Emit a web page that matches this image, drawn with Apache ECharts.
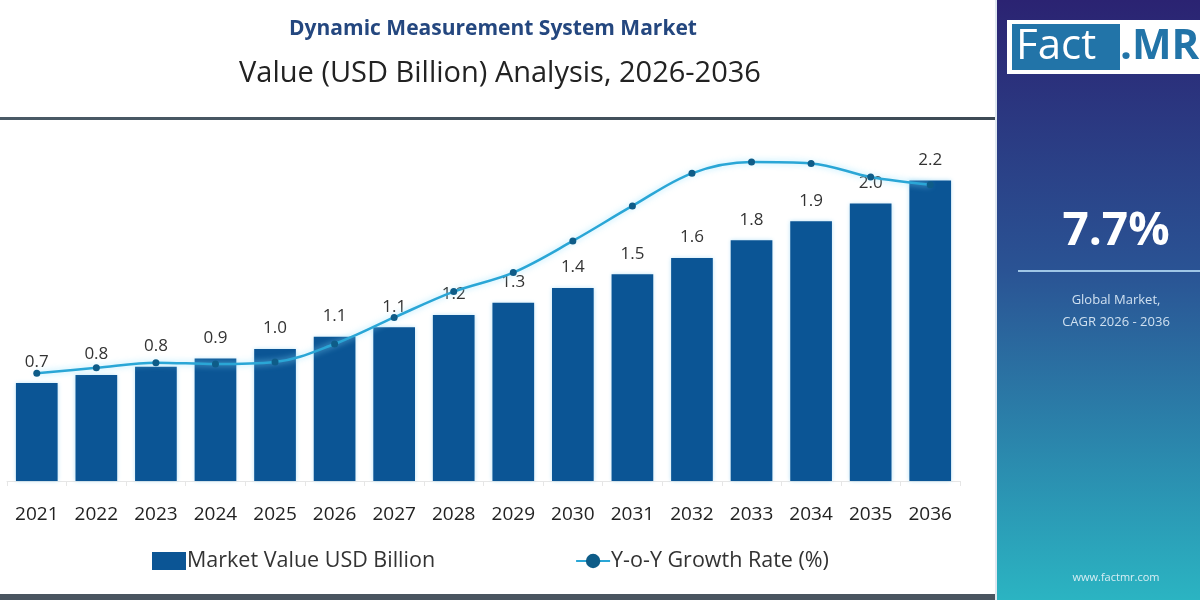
<!DOCTYPE html>
<html>
<head>
<meta charset="utf-8">
<script src="https://cdn.jsdelivr.net/npm/echarts@6/dist/echarts.min.js"></script>
<style>
html,body{margin:0;padding:0;background:#fff;}
#chart{width:1200px;height:600px;}
</style>
</head>
<body>
<div id="chart"></div>
<script>
const years = ['2021','2022','2023','2024','2025','2026','2027','2028','2029','2030','2031','2032','2033','2034','2035','2036'];
const marketValue = [0.72, 0.78, 0.84, 0.90, 0.97, 1.06, 1.13, 1.22, 1.31, 1.42, 1.52, 1.64, 1.77, 1.91, 2.04, 2.21];
const growthRate = [31.7, 33.3, 34.8, 34.4, 35.0, 40.3, 48.1, 55.7, 61.3, 70.6, 80.9, 90.5, 93.8, 93.4, 89.4, 87.1];
const titleText = 'Dynamic Measurement System Market';
const subtitleText = 'Value (USD Billion) Analysis, 2026-2036';
const cagrText = '7.7%';
const cagrLabel = ['Global Market,', 'CAGR 2026 - 2036'];
const siteText = 'www.factmr.com';

const FONT = '"Open Sans", Lato, sans-serif';
const chart = echarts.init(document.getElementById('chart'));
chart.setOption({
  backgroundColor: '#ffffff',
  animation: false,
  title: [
    { text: titleText, left: 488, top: 14, textAlign: 'center',
      textStyle: { fontFamily: FONT, fontSize: 21, fontWeight: 'bold', color: '#24477f' } },
    { text: subtitleText, left: 495, top: 54, textAlign: 'center',
      textStyle: { fontFamily: FONT, fontSize: 29, fontWeight: 'normal', color: '#222' } }
  ],
  legend: {
    left: 147, top: 545, itemGap: 140, itemWidth: 34, itemHeight: 18,
    textStyle: { fontFamily: FONT, fontSize: 21.5, color: '#333', padding: [0,0,0,-4] },
    data: [
      { name: 'Market Value USD Billion', icon: 'rect' },
      { name: 'Y-o-Y Growth Rate (%)' }
    ]
  },
  grid: { left: 7, right: 240, top: 141, bottom: 119, containLabel: false },
  xAxis: {
    type: 'category', data: years,
    axisLine: { show: true, lineStyle: { color: '#e6e6e6' } },
    axisTick: { show: true, lineStyle: { color: '#e6e6e6' } },
    axisLabel: { interval: 0, fontFamily: FONT, fontSize: 19, color: '#222', margin: 24 }
  },
  yAxis: [
    { type: 'value', min: 0, max: 2.5, show: false, splitLine: { show: false } },
    { type: 'value', min: 0, max: 100, show: false, splitLine: { show: false } }
  ],
  series: [
    {
      name: 'Market Value USD Billion', type: 'bar', data: marketValue, barWidth: '70%',
      itemStyle: { color: '#0b5595', shadowColor: 'rgba(120,200,240,0.5)', shadowBlur: 4 },
      label: { show: true, position: 'top', distance: 12, fontFamily: FONT, fontSize: 17, color: '#333',
        formatter: p => p.value.toFixed(1) }
    },
    {
      name: 'Y-o-Y Growth Rate (%)', type: 'line', yAxisIndex: 1, data: growthRate, smooth: 0.35,
      symbol: 'circle', symbolSize: 7, z: 5,
      lineStyle: { color: '#2aa6d6', width: 2.5, shadowColor: 'rgba(140,225,255,0.8)', shadowBlur: 6 },
      itemStyle: { color: '#0e5c88' }
    }
  ],
  graphic: [
    { type: 'rect', shape: { x: 0, y: 117, width: 995, height: 3 },
      style: { fill: new echarts.graphic.LinearGradient(0,0,1,0,[{offset:0,color:'#4a5a66'},{offset:1,color:'#3d4a55'}]) } },
    { type: 'rect', shape: { x: 0, y: 594, width: 1200, height: 6 }, style: { fill: '#4a5560' } },
    { type: 'rect', shape: { x: 995, y: 0, width: 2, height: 600 }, style: { fill: '#dfe8f0' } },
    { type: 'rect', shape: { x: 997, y: 0, width: 203, height: 600 },
      style: { fill: new echarts.graphic.LinearGradient(0,0,0,1,[
        {offset:0,color:'#2b2372'},{offset:0.45,color:'#2a5394'},{offset:1,color:'#2bb4c2'}]) } },
    { type: 'rect', shape: { x: 1007, y: 20, width: 200, height: 54 }, style: { fill: '#ffffff' } },
    { type: 'rect', shape: { x: 1012, y: 24, width: 108, height: 46 }, style: { fill: '#2274a8' } },
    { type: 'text', x: 1016, y: 47, style: { text: 'Fact', fontFamily: FONT, fontSize: 42, fill: '#ffffff', verticalAlign: 'middle' } },
    { type: 'text', x: 1120, y: 47, style: { text: '.MR', fontFamily: FONT, fontSize: 42, fontWeight: 'bold', fill: '#2274a8', verticalAlign: 'middle' } },
    { type: 'text', x: 1116, y: 232, style: { text: cagrText, fontFamily: FONT, fontSize: 46, fontWeight: 'bold', fill: '#ffffff', align: 'center', verticalAlign: 'middle' } },
    { type: 'rect', shape: { x: 1018, y: 270, width: 182, height: 2 }, style: { fill: '#9fc6e6' } },
    { type: 'text', x: 1116, y: 300, style: { text: cagrLabel[0], fontFamily: FONT, fontSize: 13, fill: '#cfe0f0', align: 'center', verticalAlign: 'middle' } },
    { type: 'text', x: 1116, y: 322, style: { text: cagrLabel[1], fontFamily: FONT, fontSize: 13, fill: '#cfe0f0', align: 'center', verticalAlign: 'middle' } },
    { type: 'text', x: 1116, y: 578, style: { text: siteText, fontFamily: FONT, fontSize: 11, fill: '#d8eef4', align: 'center', verticalAlign: 'middle' } }
  ]
});
</script>
</body>
</html>
